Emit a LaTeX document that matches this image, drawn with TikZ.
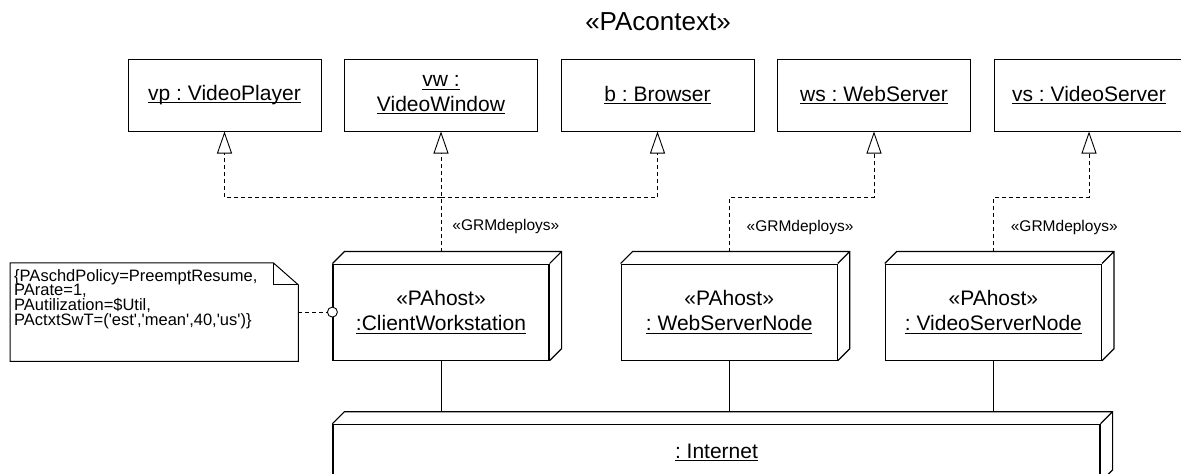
\documentclass[tikz,border=0pt]{standalone}
\usepackage{fontspec}
\setmainfont{Liberation Sans}
\usepackage{tikz}
\usetikzlibrary{positioning, arrows.meta}
\frenchspacing

\newcommand{\uname}[1]{\setbox0=\hbox{#1}\rlap{\rule[-2.6pt]{\wd0}{1pt}}\box0}
\newcommand{\sq}{\textquotesingle}

\begin{document}
\begin{tikzpicture}[
  x=1pt, y=-1pt,
  node distance=22.5pt,
  ctxlbl/.style={font=\fontsize{26}{30}\selectfont, inner sep=0pt},
  objbox/.style={rectangle, draw, line width=1pt, minimum width=193pt,
                 minimum height=72pt, align=center, inner sep=2pt,
                 font=\fontsize{21}{24.5}\selectfont},
  host/.style={rectangle, draw, line width=1.2pt, minimum width=216pt,
               minimum height=96pt, align=center, inner sep=2pt,
               font=\fontsize{21}{25}\selectfont},
  netbox/.style={host, minimum width=767pt, minimum height=57pt},
  notebox/.style={rectangle, inner xsep=4pt, inner ysep=6pt,
                  font=\fontsize{16.5}{14.8}\selectfont},
  port/.style={circle, draw, line width=0.9pt, fill=white, minimum size=10pt,
               inner sep=0pt},
  dep/.style={dash pattern=on 4pt off 3pt, line width=0.9pt},
  realize/.style={dep, -{Triangle[open, length=22pt, width=15pt]}},
  link/.style={line width=0.9pt},
  lbl/.style={font=\fontsize{15.5}{18}\selectfont, inner sep=1pt}
]
\useasboundingbox (0,0) rectangle (1181,474);

% Title
\node[ctxlbl] (ctx) at (658,22) {«PAcontext»};

% Row 1: deployed objects
\node[objbox] (vp) at (224.5,95) {\uname{vp : VideoPlayer}};
\node[objbox, right=of vp] (vw) {\uname{vw :}\\\uname{VideoWindow}};
\node[objbox, right=of vw] (b) {\uname{b : Browser}};
\node[objbox, right=of b] (ws) {\uname{ws : WebServer}};
\node[objbox, right=of ws, minimum width=190pt] (vs) {\uname{vs : VideoServer}};

% Row 2: hosts
\node[host, below=132pt of vw] (cw) {«PAhost»\\\uname{:ClientWorkstation}};
\node[host, right=71pt of cw] (wsn) {«PAhost»\\\uname{: WebServerNode}};
\node[host, right=47pt of wsn] (vsn) {«PAhost»\\\uname{: VideoServerNode}};

% Row 3: network
\node[netbox, below=63pt of cw.south west, anchor=north west] (net) {\uname{: Internet}};

% 3D depth of the nodes
\foreach \n in {cw, wsn, vsn, net} {
  \draw[line width=1.2pt] (\n.north west) -- ++(12pt,12pt)
    -| ([shift={(12pt,12pt)}]\n.south east) -- (\n.south east)
    (\n.north east) -- ++(12pt,12pt);
}

% Note with PA tags
\node[notebox, left=34pt of cw] (note) {\parbox[c][86pt][t]{280pt}{\lineskiplimit=-100pt
  \{PAschdPolicy=PreemptResume,\\PArate=1,\\PAutilization=\$Util,\\
  PActxtSwT=(\sq est\sq,\sq mean\sq,40,\sq us\sq)\}}};
\draw[line width=1pt] (note.north west) -- ([xshift=-25pt]note.north east)
  -- ([yshift=-22pt]note.north east) -- (note.south east) -- (note.south west) -- cycle;
\draw[line width=1pt] ([xshift=-25pt]note.north east) |- ([yshift=-22pt]note.north east);
\node[port] (cwport) at (cw.west) {};

% Arrows
\coordinate (cwjoin) at (vw.south |- 0,197);
\draw[realize] ([yshift=12pt]cw.north) -- node[lbl, pos=0.45, right=10pt] {«GRMdeploys»} (cwjoin) -- (vw.south);
\draw[realize] (cwjoin) -| (vp.south);
\draw[realize] (cwjoin) -| (b.south);
\draw[realize] ([yshift=12pt]wsn.north) -- node[lbl, pos=0.45, right=16pt] {«GRMdeploys»} ++(0,-54) -| (ws.south);
\draw[realize] ([yshift=12pt]vsn.north) -- node[lbl, pos=0.45, right=16pt] {«GRMdeploys»} ++(0,-54) -| (vs.south);
\draw[dep] (note) -- (cwport);
\draw[link] (cw) -- ([yshift=12pt]net.north -| cw);
\draw[link] (wsn) -- ([yshift=12pt]net.north -| wsn);
\draw[link] (vsn) -- ([yshift=12pt]net.north -| vsn);
\end{tikzpicture}
\end{document}
